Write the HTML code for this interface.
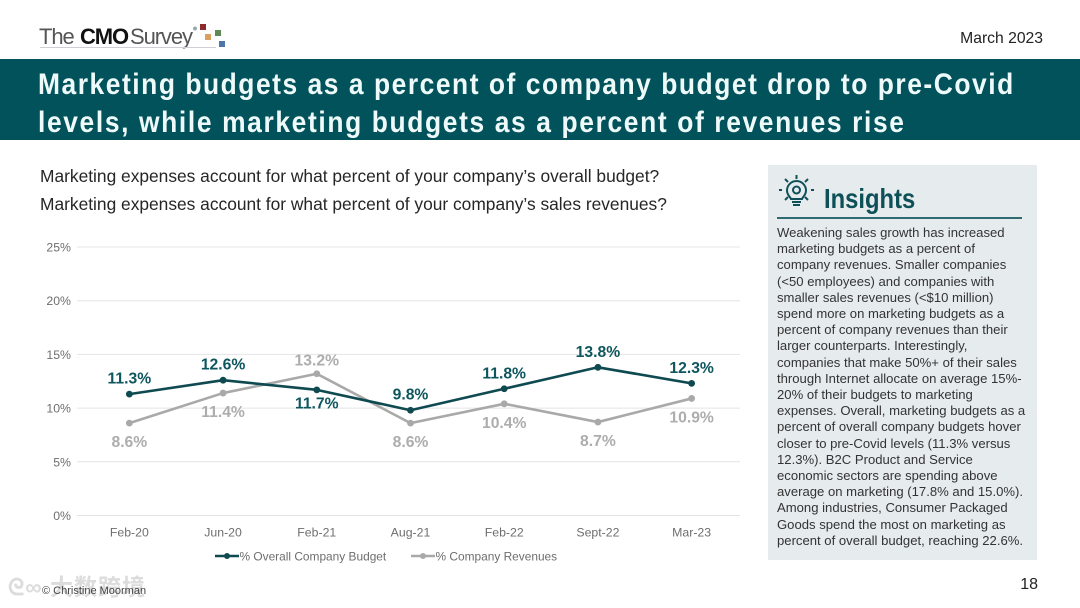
<!DOCTYPE html>
<html lang="en">
<head>
<meta charset="utf-8">
<title>Marketing budgets</title>
<style>
html,body{margin:0;padding:0;background:#fff}
#page{position:relative;width:1080px;height:608px;overflow:hidden;background:#fff;font-family:"Liberation Sans",Arial,sans-serif;filter:blur(.25px)}
.abs{position:absolute;white-space:nowrap}
#banner{left:0;top:59px;width:1080px;height:81px;background:#02525b}
.title-line{left:38px;color:#eefafa;font-weight:bold;font-size:30px;line-height:36px;letter-spacing:1.84px;transform:scaleX(.88);transform-origin:left}
.q{left:40px;font-size:17.37px;color:#262626;line-height:22px}
#panel{left:768px;top:165px;width:269px;height:395px;background:#e6ebee}
#insight-text{left:777px;top:225px;font-size:13.1px;line-height:16.2px;color:#333}
</style>
</head>
<body>
<div id="page">
  <svg class="abs" style="left:38px;top:20px" width="195" height="32">
    <text x="1" y="24" font-family="Liberation Sans" font-size="22" letter-spacing="-1.1" fill="#555">The</text>
    <text x="42" y="24" font-family="Liberation Sans" font-size="22" font-weight="bold" letter-spacing="-1.1" fill="#111">CMO</text>
    <text x="92" y="24" font-family="Liberation Sans" font-size="22" letter-spacing="-1.1" fill="#555">Survey</text>
    <line x1="2" y1="27.5" x2="178" y2="27.5" stroke="#cfcfd6" stroke-width="1"/>
    <circle cx="157" cy="8.5" r="2" fill="#9aa"/>
    <rect x="162" y="4" width="6" height="6" fill="#8d2a2e"/>
    <rect x="167" y="14" width="6" height="6" fill="#d9a05f"/>
    <rect x="177" y="10" width="6" height="6" fill="#5f8a58"/>
    <rect x="181" y="21" width="6" height="6" fill="#4f76a8"/>
  </svg>
  <div class="abs" style="right:37px;top:30px;font-size:15.7px;color:#222">March 2023</div>

  <div id="banner" class="abs"></div>
  <div class="abs title-line" style="top:67px;letter-spacing:1.74px">Marketing budgets as a percent of company budget drop to pre-Covid</div>
  <div class="abs title-line" style="top:105px">levels, while marketing budgets as a percent of revenues rise</div>

  <div class="abs q" style="top:165px">Marketing expenses account for what percent of your company’s overall budget?</div>
  <div class="abs q" style="top:193px">Marketing expenses account for what percent of your company’s sales revenues?</div>

  <svg id="chart" class="abs" style="left:0;top:230px" width="760" height="345"></svg>

  <div id="panel" class="abs"></div>
  <svg class="abs" style="left:778px;top:174px" width="38" height="38" viewBox="0 0 38 38">
    <g fill="none" stroke="#0e5058" stroke-width="2">
      <path d="M13 25c-1-2.500-4-4-4-8.500a9.500 9.500 0 0 1 19 0c0 4.500-3 6-4 8.500z"/>
      <circle cx="18.500" cy="16" r="3.500"/>
      <path d="M14 28h9M15 31h7M18.500 1v4M4 16h-3M36 16h-3M7 5l3 3M30 5l-3 3M7 26l3-3M30 26l-3-3"/>
    </g>
  </svg>
  <div class="abs" style="left:824px;top:183px;font-size:28px;line-height:32px;color:#0e5058;font-weight:bold;transform:scaleX(.85);transform-origin:left">Insights</div>
  <div class="abs" style="left:777px;top:217px;width:245px;height:2px;background:#2f6a72"></div>
  <div id="insight-text" class="abs">Weakening sales growth has increased<br>marketing budgets as a percent of<br>company revenues. Smaller companies<br>(&lt;50 employees) and companies with<br>smaller sales revenues (&lt;$10 million)<br>spend more on marketing budgets as a<br>percent of company revenues than their<br>larger counterparts. Interestingly,<br>companies that make 50%+ of their sales<br>through Internet allocate on average 15%-<br>20% of their budgets to marketing<br>expenses. Overall, marketing budgets as a<br>percent of overall company budgets hover<br>closer to pre-Covid levels (11.3% versus<br>12.3%). B2C Product and Service<br>economic sectors are spending above<br>average on marketing (17.8% and 15.0%).<br>Among industries, Consumer Packaged<br>Goods spend the most on marketing as<br>percent of overall budget, reaching 22.6%.</div>

  <div class="abs" style="left:8px;top:573px;font-family:'Liberation Sans','Noto Sans CJK SC',sans-serif;font-size:23px;line-height:28px;color:#dcdcdc;font-weight:bold;letter-spacing:1px">ᘓ∞ 大数跨境</div>
  <div class="abs" style="left:42px;top:585px;font-size:11px;line-height:13px;color:#444">© Christine Moorman</div>
  <div class="abs" style="right:42px;top:575px;font-size:16px;line-height:20px;color:#222">18</div>
</div>
<script>
const categories = ['Feb-20','Jun-20','Feb-21','Aug-21','Feb-22','Sept-22','Mar-23'];
const budgetValues = [11.3,12.6,11.7,9.8,11.8,13.8,12.3];
const revenueValues = [8.6,11.4,13.2,8.6,10.4,8.7,10.9];
const yTicks = [0,5,10,15,20,25];

const NS = 'http://www.w3.org/2000/svg';
const svg = document.getElementById('chart');
const plot = {left:82.5, right:738.5, top:17, bottom:285.5, max:25};
function xScale(i){ return plot.left + (plot.right - plot.left) * (i + 0.5) / categories.length; }
function yScale(v){ return plot.bottom - (plot.bottom - plot.top) * v / plot.max; }
function add(tag, attrs, text){
  const el = document.createElementNS(NS, tag);
  for (const k in attrs) el.setAttribute(k, attrs[k]);
  if (text !== undefined) el.textContent = text;
  svg.appendChild(el);
  return el;
}
const font = '"Liberation Sans",Arial,sans-serif';

yTicks.forEach(function(t){
  const g = add('line', {x1:77, x2:740, y1:yScale(t), y2:yScale(t), stroke:'#e4e4e4', 'stroke-width':1});
  
  
  const l = add('text', {x:71, y:yScale(t)+4.5, 'text-anchor':'end', 'font-family':font, 'font-size':12.3, fill:'#6e6e6e'}, t + '%');
  
  
});
categories.forEach(function(c, i){
  const l = add('text', {x:xScale(i), y:306.5, 'text-anchor':'middle', 'font-family':font, 'font-size':12.3, fill:'#6e6e6e'}, c);
  
  
});

function drawLine(vals, color, key){
  const pts = vals.map(function(v, i){ return xScale(i) + ',' + yScale(v); }).join(' ');
  const line = add('polyline', {points:pts, fill:'none', stroke:color, 'stroke-width':2.6, 'stroke-linejoin':'round'});
  
  
  vals.forEach(function(v, i){
    const p = add('circle', {cx:xScale(i), cy:yScale(v), r:3.4, fill:color});
    
    
  });
}
function drawLabels(vals, others, color, key, aboveGap, belowGap){
  vals.forEach(function(v, i){
    const above = v >= others[i];
    const y = yScale(v) + (above ? aboveGap : belowGap);
    const l = add('text', {x:xScale(i), y:y, 'text-anchor':'middle', 'font-family':font, 'font-size':15.7, 'font-weight':'bold', fill:color}, v.toFixed(1) + '%');
    
    
  });
}
drawLine(revenueValues, '#a9a9a9', 'revenues');
drawLine(budgetValues, '#0e4a50', 'budget');
drawLabels(budgetValues, revenueValues, '#0e565e', 'budget', -10.5, 18.5);
drawLabels(revenueValues, budgetValues, '#adadad', 'revenues', -8, 24);

[['% Overall Company Budget', 215, '#0e4a50', 'legend-budget'], ['% Company Revenues', 411, '#a9a9a9', 'legend-revenues']].forEach(function(e){
  const ln = add('line', {x1:e[1], x2:e[1]+24, y1:326, y2:326, stroke:e[2], 'stroke-width':2.6});
  
  
  const d = add('circle', {cx:e[1]+12, cy:326, r:3, fill:e[2]});
  
  
  const t = add('text', {x:e[1]+24.5, y:330.5, 'font-family':font, 'font-size':11.9, fill:'#6e6e6e'}, e[0]);
  
  
});
</script>
</body>
</html>
